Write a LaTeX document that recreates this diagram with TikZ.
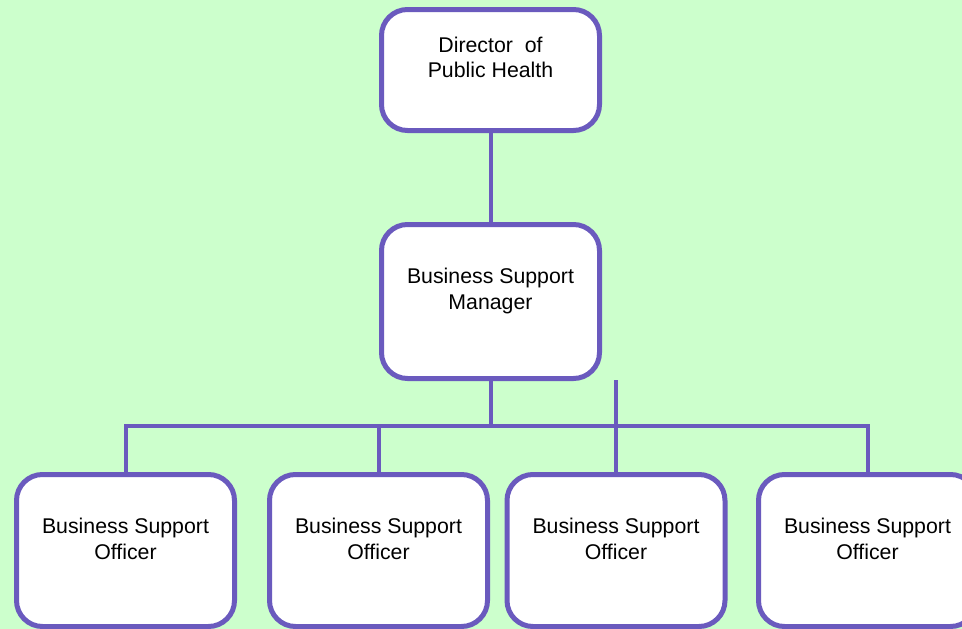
\documentclass[tikz,border=0pt]{standalone}
\usepackage{fontspec}
\setmainfont{Liberation Sans}
\usetikzlibrary{calc}
\definecolor{bgreen}{RGB}{204,255,204}
\definecolor{pur}{RGB}{106,90,190}
\begin{document}
\begin{tikzpicture}[x=1pt,y=-1pt,
  box/.style={rectangle, draw=pur, fill=white, line width=5pt, rounded corners=26pt,
              minimum width=218pt, inner sep=0pt},
  link/.style={draw=pur, line width=4pt},
  txt/.style={font=\fontsize{21.3}{25.5}\selectfont, align=center, anchor=base,
              inner sep=0pt, text=black}]
\useasboundingbox (0,0) rectangle (962,629);
\fill[bgreen] (0,0) rectangle (962,629);
\clip (0,0) rectangle (962,629);
% boxes
\node[box, minimum height=121pt] (dph) at (490.5,70) {};
\node[box, minimum height=154pt] (bsm) at (490.5,301.5) {};
\node[box, minimum height=152pt] (o1) at (125.5,550.5) {};
\node[box, minimum height=152pt] (o2) at (378.5,550.5) {};
\node[box, minimum height=152pt] (o3) at (616,550.5) {};
\node[box, minimum height=152pt] (o4) at (867.5,550.5) {};
% texts (base anchor = baseline of last line)
\node[txt] (tdph) at (490.5,77.5) {Director\ \ of\\Public Health};
\node[txt] (tbsm) at (490.5,309) {Business Support\\Manager};
\node[txt] (to1) at (125.5,559) {Business Support\\Officer};
\node[txt] (to2) at (378.5,559) {Business Support\\Officer};
\node[txt] (to3) at (616,559) {Business Support\\Officer};
\node[txt] (to4) at (867.5,559) {Business Support\\Officer};
% connectors
\coordinate (j) at (490.5,426);
\coordinate (top3) at (616,380);
\draw[link] (dph.south) -- (bsm.north);
\draw[link] (bsm.south) -- (j);
\draw[link] (o1.north) -- (o1.north |- j) -- (o4.north |- j) -- (o4.north);
\draw[link] (o2.north) -- (o2.north |- j);
\draw[link] (o3.north) -- (top3);
\end{tikzpicture}
\end{document}
